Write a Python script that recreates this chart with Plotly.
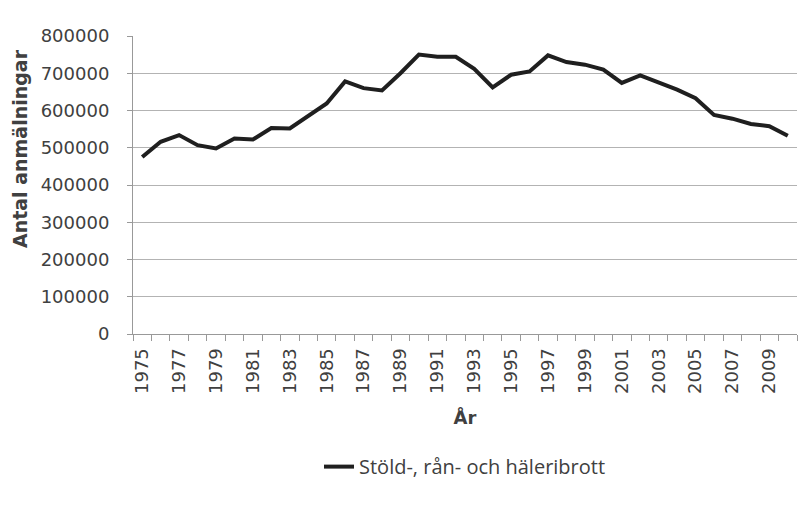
import plotly.graph_objects as go

years = list(range(1975, 2011))
values = [475000, 516000, 534000, 507000, 498000, 525000, 522000, 553000, 552000, 586000,
          619000, 678000, 660000, 654000, 700000, 750000, 744000, 744000, 712000, 662000,
          696000, 705000, 748000, 730000, 723000, 710000, 674000, 694000, 676000, 656000,
          633000, 588000, 578000, 564000, 558000, 532000]
tick_years = list(range(1975, 2011, 2))
series_name = "Stöld-, rån- och häleribrott"
y_title = "Antal anmälningar"
x_title = "År"

TXT = "#404040"
GRID = "#b3b3b3"
AXIS = "#999999"
FONT = "DejaVu Sans"

fig = go.Figure()
fig.add_trace(go.Scatter(x=years, y=values, mode="lines", name=series_name,
                         line=dict(color="#1f1f1f", width=4)))

fig.update_layout(
    width=811, height=510,
    margin=dict(l=125, r=22, t=28, b=184, autoexpand=False),
    paper_bgcolor="white", plot_bgcolor="white",
    font=dict(family=FONT, size=16, color=TXT),
    showlegend=True,
    legend=dict(orientation="h", x=0.5, xanchor="center", y=-0.445, yanchor="middle",
                font=dict(family="Open Sans", size=20, color=TXT)),
    annotations=[dict(text="<b>" + y_title + "</b>", textangle=-90, showarrow=False,
                      xref="paper", yref="paper", x=-0.170, y=0.621,
                      xanchor="center", yanchor="middle",
                      font=dict(family=FONT, size=19, color=TXT))],
)
fig.update_xaxes(
    range=[1974.5, 2010.5], automargin=False,
    tickvals=tick_years, ticktext=[str(y) for y in tick_years],
    tickangle=-90, ticks="", tickfont=dict(size=18, color=TXT),
    ticklabelstandoff=6,
    showgrid=False, zeroline=False,
    showline=True, linecolor=AXIS, linewidth=1,
    minor=dict(tickvals=[y - 0.5 for y in years] + [2010.5], ticks="outside",
               ticklen=6, tickcolor=AXIS, showgrid=False),
    title=dict(text="<b>" + x_title + "</b>", font=dict(size=18, color=TXT), standoff=18),
)
fig.update_yaxes(
    range=[0, 800000], dtick=100000, tickformat="d", automargin=False,
    tickfont=dict(size=18, color=TXT),
    showgrid=True, gridcolor=GRID, gridwidth=1, zeroline=False,
    showline=True, linecolor=AXIS, linewidth=1,
    ticks="outside", ticklen=5, tickcolor=AXIS,
    ticklabelstandoff=14,
)

fig.write_html("out.html")
